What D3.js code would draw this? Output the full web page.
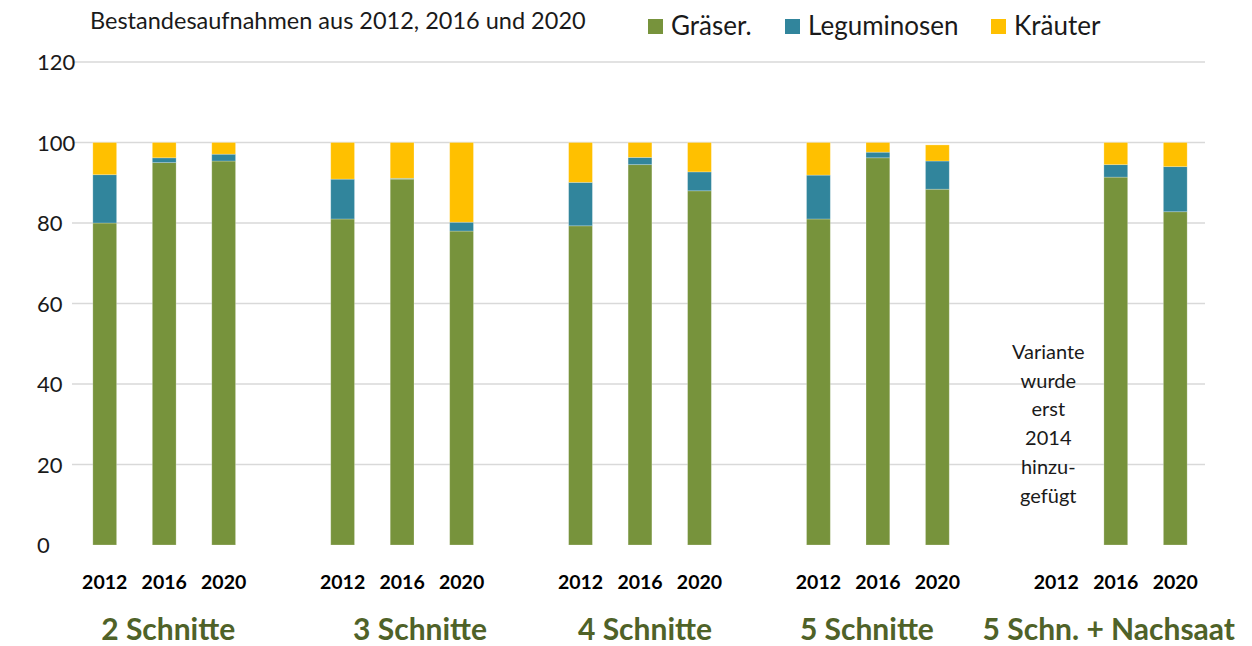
<!DOCTYPE html>
<html>
<head>
<meta charset="utf-8">
<script src="https://cdn.jsdelivr.net/npm/d3@7"></script>
<style>
  body { margin: 0; background: #fff; }
  svg text { font-family: Lato, "Liberation Sans", sans-serif; }
</style>
</head>
<body>
<div class="container"></div>
<script>
// Bestandesaufnahmen: Anteile in % je Variante und Jahr
const groups = ["2 Schnitte", "3 Schnitte", "4 Schnitte", "5 Schnitte", "5 Schn. + Nachsaat"];
const years = ["2012", "2016", "2020"];
const seriesNames = ["Gräser.", "Leguminosen", "Kräuter"];

// one entry per group, one value per year (null = nicht erhoben)
const graeser     = [[80, 95, 95.4], [81, 90.9, 78], [79.3, 94.5, 88], [81, 96.2, 88.4], [null, 91.4, 82.8]];
const leguminosen = [[12, 1.2, 1.7], [9.9, 0.2, 2.2], [10.8, 1.8, 4.7], [10.9, 1.4, 7], [null, 3.1, 11.2]];
const kraeuter    = [[8, 3.8, 2.9], [9.1, 8.9, 19.8], [9.9, 3.7, 7.3], [8.1, 2.4, 4], [null, 5.5, 6]];

const yTicks = [0, 20, 40, 60, 80, 100, 120];
const noteLines = ["Variante", "wurde", "erst", "2014", "hinzu-", "gefügt"];

const WIDTH = 1252, HEIGHT = 646;
const colors = ["#77933C", "#31859C", "#FFC000"];
const labelShift = [4, 18, 5, -11, -7];

var svg = d3.select('.container').append('svg')
    .attr('width', WIDTH)
    .attr('height', HEIGHT);

// slots: 3 bars per group plus one empty slot between groups
var slots = [];
groups.forEach(function (g, gi) {
    years.forEach(function (y, yi) {
        slots.push({key: gi + "-" + yi, group: gi, year: yi});
    });
    if (gi < groups.length - 1) slots.push({key: "gap" + gi, gap: true});
});

var xScale = d3.scaleBand()
    .domain(slots.map(function (s) { return s.key; }))
    .range([75, 1205])
    .paddingInner(0.6)
    .paddingOuter(0.3);

var yScale = d3.scaleLinear()
    .domain([0, 120])
    .range([545, 62]);

// grid
svg.append('g').selectAll('line')
    .data(yTicks.slice(1))
    .enter().append('line')
    .attr('x1', 72).attr('x2', 1205)
    .attr('y1', function (d) { return yScale(d); })
    .attr('y2', function (d) { return yScale(d); })
    .attr('stroke', '#d9d9d9')
    .attr('stroke-width', 1.5);

// y labels
svg.append('g').selectAll('text')
    .data(yTicks)
    .enter().append('text')
    .attr('x', 37)
    .attr('y', function (d) { return yScale(d) + 8; })
    .attr('font-size', 22)
    .attr('fill', '#1a1a1a')
    .text(function (d) { return d; });

// stacked bars
var rows = [];
groups.forEach(function (g, gi) {
    years.forEach(function (y, yi) {
        if (graeser[gi][yi] == null) return;
        rows.push({key: gi + "-" + yi, v: [graeser[gi][yi], leguminosen[gi][yi], kraeuter[gi][yi]]});
    });
});

var stack = d3.stack()
    .keys([0, 1, 2])
    .value(function (d, k) { return d.v[k]; });

var layers = stack(rows);

svg.append('g').selectAll('g')
    .data(layers)
    .enter().append('g')
    .attr('fill', function (d, i) { return colors[i]; })
    .selectAll('rect')
    .data(function (d) { return d; })
    .enter().append('rect')
    .attr('x', function (d) { return xScale(d.data.key); })
    .attr('width', xScale.bandwidth())
    .attr('y', function (d) { return yScale(d[1]); })
    .attr('height', function (d) { return yScale(d[0]) - yScale(d[1]); })
    .attr('stroke', '#fff')
    .attr('stroke-opacity', 0.3)
    .attr('stroke-width', 0.8);

// year labels
var yearSlots = slots.filter(function (s) { return !s.gap; });
svg.append('g').selectAll('text')
    .data(yearSlots)
    .enter().append('text')
    .attr('x', function (d) { return xScale(d.key) + xScale.bandwidth() / 2; })
    .attr('y', 589)
    .attr('text-anchor', 'middle')
    .attr('font-size', 19.5)
    .attr('font-weight', 'bold')
    .attr('fill', '#000')
    .text(function (d) { return years[d.year]; });

// group labels
svg.append('g').selectAll('text')
    .data(groups)
    .enter().append('text')
    .attr('x', function (d, i) { return xScale(i + "-1") + xScale.bandwidth() / 2 + labelShift[i]; })
    .attr('y', 640)
    .attr('text-anchor', 'middle')
    .attr('font-size', 30)
    .attr('font-weight', 'bold')
    .attr('fill', '#4F6228')
    .text(function (d) { return d; });

// note for missing 2012
var noteX = xScale("4-0") + xScale.bandwidth() / 2 - 8;
var note = svg.append('text')
    .attr('x', noteX)
    .attr('y', 359)
    .attr('text-anchor', 'middle')
    .attr('font-size', 20)
    .attr('fill', '#1a1a1a');
note.selectAll('tspan')
    .data(noteLines)
    .enter().append('tspan')
    .attr('x', noteX)
    .attr('dy', function (d, i) { return i === 0 ? 0 : 28.7; })
    .text(function (d) { return d; });

// title
svg.append('text')
    .attr('x', 90)
    .attr('y', 29)
    .attr('font-size', 23.5)
    .attr('fill', '#1a1a1a')
    .text("Bestandesaufnahmen aus 2012, 2016 und 2020");

// legend
var legendX = [648, 785, 991];
var legend = svg.append('g').selectAll('g')
    .data(seriesNames)
    .enter().append('g')
    .attr('transform', function (d, i) { return "translate(" + legendX[i] + ",19)"; });
legend.append('rect')
    .attr('width', 15).attr('height', 15)
    .attr('fill', function (d, i) { return colors[i]; });
legend.append('text')
    .attr('x', 23)
    .attr('y', 16)
    .attr('font-size', 26)
    .attr('fill', '#1a1a1a')
    .text(function (d) { return d; });
</script>
</body>
</html>
